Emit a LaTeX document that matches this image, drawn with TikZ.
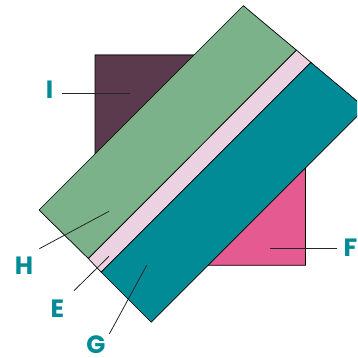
\documentclass[tikz,border=0pt]{standalone}
\usepackage{fontspec}
\newfontfamily\labfont{Poppins}
\definecolor{plum}{RGB}{91,58,78}
\definecolor{sage}{RGB}{124,178,138}
\definecolor{blush}{RGB}{236,210,224}
\definecolor{tealc}{RGB}{0,139,150}
\definecolor{rose}{RGB}{229,90,145}
\definecolor{labteal}{RGB}{0,139,150}
\tikzset{
  edge/.style={draw=black, line width=0.7pt, line join=miter},
  lbl/.style={text=labteal, font=\labfont\bfseries\fontsize{25}{25}\selectfont, inner sep=0pt},
  leader/.style={draw=black!85, line width=0.8pt},
}
\begin{document}
\begin{tikzpicture}[x=1pt,y=-1pt]
\useasboundingbox (0,0) rectangle (357,358);
\clip (0,0) rectangle (357,358);
% back square: two halves
\fill[black!20] (95,54) -- (275,54) -- (95,234) -- cycle;
\filldraw[fill=plum, edge] (95,55) -- (270,55) -- (95,230) -- cycle;
\filldraw[fill=rose, edge] (305.5,265.3) -- (305.5,120) -- (160,265.3) -- cycle;
% band
\filldraw[fill=sage, edge] (39,210) -- (243.3,5.7) -- (296.5,50.2) -- (88.3,258.5) -- cycle;
\filldraw[fill=blush, edge] (88.3,258.5) -- (296.5,50.2) -- (310.9,62.4) -- (101.15,272.15) -- cycle;
\filldraw[fill=tealc, edge] (101.15,272.15) -- (310.9,62.4) -- (365.3,108) -- (151.15,322.15) -- cycle;
% labels
\node[lbl] (I) at (49.5,90) {I};
\node[lbl] (F) at (350.5,248) {F};
\node[lbl] (H) at (24,266) {H};
\node[lbl] (E) at (57.5,309) {E};
\node[lbl] (G) at (96,344.8) {G};
% leader ends
\coordinate (i1) at (62,93.3);   \coordinate (i2) at (130,93.3);
\coordinate (f1) at (337.3,248.7); \coordinate (f2) at (269.7,248.7);
\coordinate (h1) at (39.3,248.7); \coordinate (h2) at (109,211.3);
\coordinate (e1) at (74,290.7);   \coordinate (e2) at (109,256.3);
\coordinate (g1) at (109.3,334);  \coordinate (g2) at (146.7,265.3);
\draw[leader] (i1) -- (i2);
\draw[leader] (f1) -- (f2);
\draw[leader] (h1) -- (h2);
\draw[leader] (e1) -- (e2);
\draw[leader] (g1) -- (g2);
\end{tikzpicture}
\end{document}
